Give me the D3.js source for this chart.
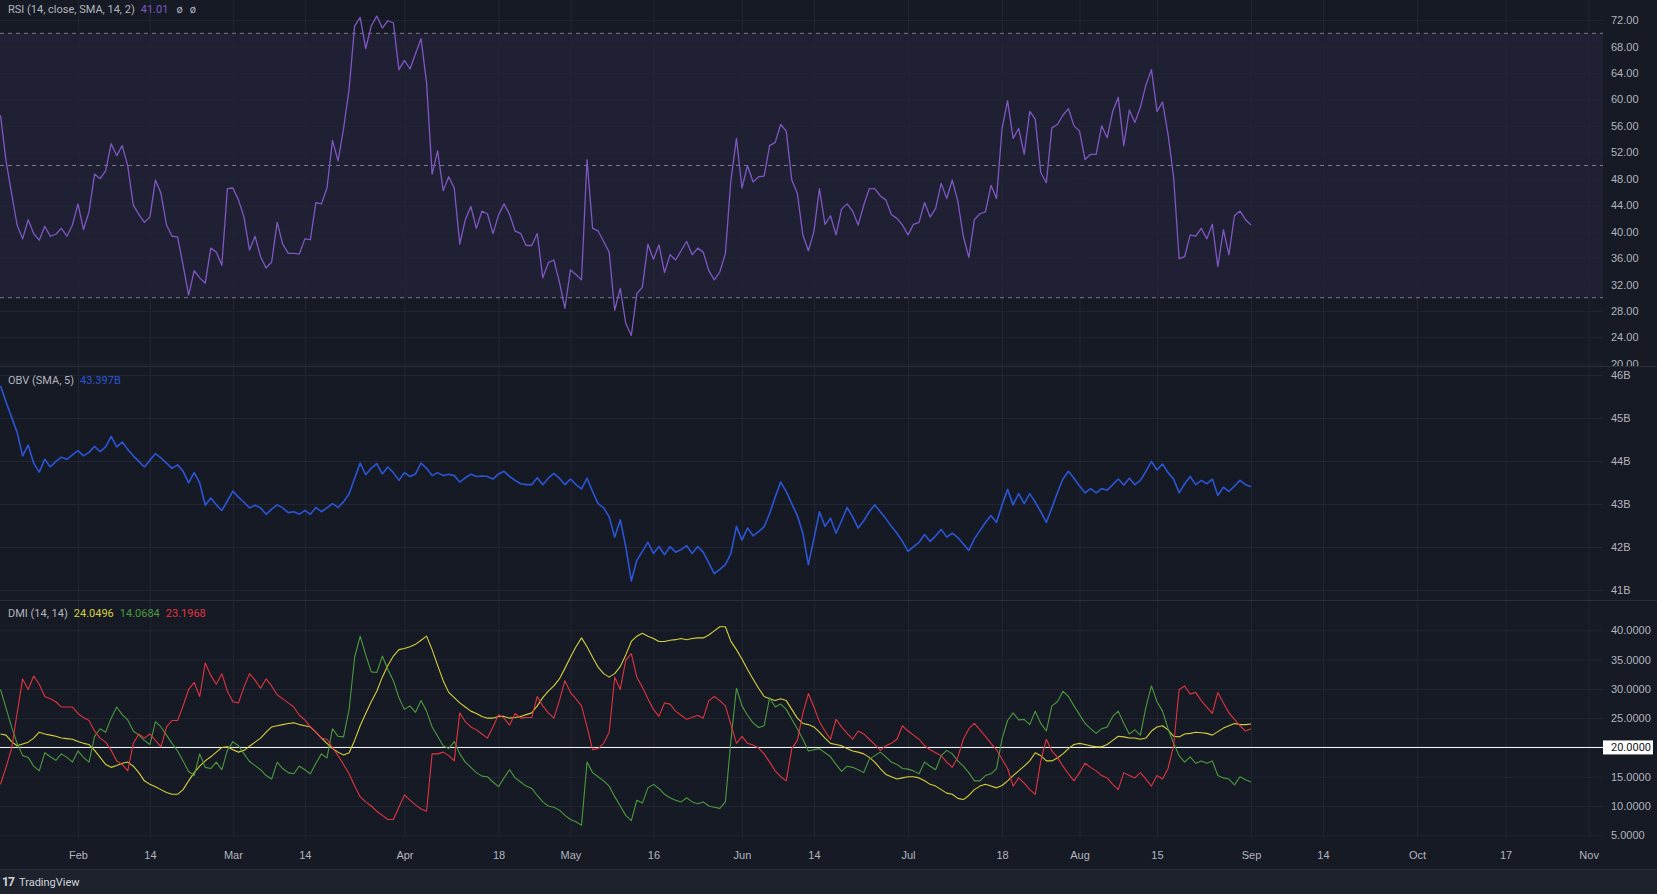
<!DOCTYPE html>
<html>
<head>
<meta charset="utf-8">
<script src="https://d3js.org/d3.v7.min.js"></script>
<style>
  html, body { margin: 0; padding: 0; background: #161a25; }
  svg { display: block; font-family: Roboto, "Noto Sans", sans-serif; }
</style>
</head>
<body>
<div id="wrapper"></div>
<script>
// daily values, 18 Jan 2022 .. 1 Sep 2022
const firstDay = '2022-01-18'
const lastDay = '2022-09-01'

const rsiValues = [
  57.6,50.7,45.8,41.0,38.9,41.8,39.7,38.7,40.8,39.3,
  39.6,40.5,39.3,41.0,44.2,40.3,43.0,48.7,48.0,49.2,
  53.3,51.5,53.0,49.9,44.0,42.6,41.4,42.2,47.8,45.8,
  41.0,39.3,39.2,34.9,30.4,34.1,33.0,32.2,37.5,36.9,
  34.9,46.5,46.6,44.8,42.2,37.2,39.3,36.2,34.5,35.4,
  41.4,38.1,36.7,36.7,36.6,38.9,38.8,44.4,44.2,46.6,
  53.8,50.7,55.6,61.6,71.1,72.4,67.7,71.1,72.6,70.8,
  71.9,71.6,64.5,65.9,64.6,66.9,69.2,62.5,48.7,52.2,
  46.2,48.3,46.6,38.1,41.8,43.8,40.5,43.1,42.7,39.7,
  42.5,44.2,42.6,40.1,39.7,37.9,37.9,39.7,33.0,35.3,
  35.7,32.4,28.4,34.2,33.5,32.7,50.9,40.5,40.1,38.5,
  36.9,28.1,31.4,26.1,24.3,30.6,31.6,38.1,35.8,38.0,
  33.8,36.5,35.7,37.1,38.5,36.5,37.5,36.9,34.1,32.7,
  33.9,36.7,47.8,54.1,46.6,50.0,47.5,48.3,48.4,53.0,
  53.5,56.2,55.2,47.8,45.8,39.5,37.1,40.0,46.5,41.1,
  42.4,39.5,43.4,44.2,43.1,41.0,44.0,46.5,46.5,45.4,
  44.8,42.6,42.0,41.0,39.5,41.1,41.4,44.4,42.2,43.5,
  47.3,45.0,47.8,44.6,39.3,36.1,41.8,42.7,43.0,47.0,
  45.0,55.6,59.8,54.1,55.6,51.7,58.2,57.0,48.9,47.4,
  55.7,56.2,57.6,58.6,56.0,55.2,50.9,51.7,51.7,56.0,
  54.2,58.2,60.3,53.0,58.4,56.5,58.8,62.2,64.5,58.2,
  59.6,54.7,48.3,35.9,36.2,39.5,39.3,40.5,38.9,41.1,
  34.7,40.3,36.5,42.4,43.1,41.8,41.0
]

// billions
const obvValues = [
  45.75,45.37,45.02,44.67,44.12,44.37,43.95,43.74,44.04,43.86,
  43.99,44.09,44.04,44.14,44.24,44.12,44.20,44.34,44.22,44.33,
  44.57,44.33,44.44,44.27,44.12,43.99,43.86,44.02,44.17,44.07,
  43.95,43.83,43.91,43.76,43.49,43.73,43.49,42.97,43.14,42.98,
  42.85,43.07,43.30,43.16,43.04,42.91,42.97,42.91,42.76,42.88,
  42.98,42.91,42.80,42.82,42.76,42.85,42.76,42.92,42.82,42.91,
  43.01,42.92,43.05,43.24,43.60,43.95,43.68,43.83,43.94,43.70,
  43.86,43.73,43.55,43.73,43.64,43.70,43.95,43.83,43.66,43.73,
  43.66,43.69,43.66,43.51,43.61,43.69,43.64,43.65,43.64,43.58,
  43.70,43.76,43.64,43.55,43.47,43.45,43.45,43.61,43.45,43.60,
  43.71,43.60,43.45,43.58,43.45,43.35,43.60,43.29,43.01,42.91,
  42.70,42.23,42.63,42.01,41.21,41.69,41.90,42.11,41.85,42.01,
  41.82,42.01,41.88,41.94,42.03,41.85,42.01,41.88,41.63,41.38,
  41.48,41.59,41.85,42.48,42.16,42.44,42.26,42.36,42.47,42.78,
  43.16,43.51,43.29,43.01,42.73,42.32,41.59,42.19,42.82,42.48,
  42.67,42.32,42.61,42.92,42.70,42.44,42.61,42.82,42.98,42.82,
  42.66,42.48,42.32,42.13,41.90,42.01,42.11,42.29,42.13,42.26,
  42.41,42.23,42.32,42.22,42.07,41.92,42.19,42.38,42.57,42.73,
  42.57,42.98,43.34,42.98,43.24,43.01,43.24,43.04,42.82,42.57,
  42.91,43.26,43.58,43.76,43.60,43.42,43.26,43.36,43.26,43.36,
  43.32,43.45,43.58,43.44,43.60,43.45,43.55,43.76,43.99,43.79,
  43.93,43.73,43.58,43.26,43.47,43.64,43.45,43.55,43.47,43.58,
  43.20,43.39,43.29,43.42,43.55,43.45,43.40
]

const adxValues = [
  22.3,22.1,21.0,20.3,20.6,20.9,21.6,22.6,22.3,22.1,
  21.9,21.6,21.5,21.4,21.0,20.7,20.5,19.5,18.3,17.1,
  16.6,16.9,17.3,17.5,16.8,15.7,14.3,13.7,13.3,12.8,
  12.3,12.0,12.0,12.8,14.3,15.7,16.8,17.7,18.4,19.2,
  20.0,20.1,19.6,19.2,19.5,20.2,20.9,21.6,22.6,23.5,
  23.7,23.9,24.1,24.2,23.9,23.7,23.5,22.6,21.6,20.7,
  19.8,19.2,18.7,19.1,21.2,23.7,25.8,27.8,29.6,32.0,
  34.0,35.6,36.7,36.9,37.2,37.6,38.3,39.0,36.7,34.0,
  31.4,29.4,28.5,27.6,26.9,26.2,25.8,25.3,25.0,25.0,
  25.3,25.3,25.0,25.1,25.3,25.6,25.9,27.1,28.5,29.6,
  30.5,31.7,33.5,35.4,37.2,38.7,37.2,35.4,33.7,32.6,
  32.0,32.6,33.8,35.8,38.1,39.0,39.5,39.0,38.6,38.1,
  38.1,38.3,38.4,38.6,38.4,38.6,38.7,38.7,39.2,39.9,
  40.6,40.6,38.1,36.7,35.1,33.3,31.7,30.1,28.7,28.3,
  28.0,28.3,28.0,26.5,25.0,24.1,23.9,23.5,22.6,21.6,
  20.7,20.5,20.3,19.8,19.4,19.2,18.9,18.3,17.5,16.4,
  15.4,15.0,14.6,14.8,15.0,15.0,14.8,14.3,13.7,13.4,
  12.8,12.2,12.0,11.3,11.1,11.8,12.8,13.4,13.7,13.4,
  13.1,13.5,14.3,15.2,16.0,16.8,17.7,19.1,18.6,17.7,
  17.7,18.2,18.9,19.8,20.5,20.7,20.5,20.3,20.1,20.1,
  20.5,21.2,21.9,21.8,21.6,21.6,21.4,21.6,22.8,23.5,
  23.7,23.0,21.9,21.8,22.3,22.4,22.6,22.5,22.4,22.1,
  22.7,23.3,23.7,24.1,23.9,23.9,24.0
]

const plusDiValues = [
  29.9,26.7,23.5,20.7,18.6,18.3,16.8,16.0,19.1,18.4,
  17.8,18.9,18.3,17.5,19.4,18.3,17.5,21.9,23.2,22.6,
  25.0,26.9,25.6,24.7,22.8,22.1,21.2,20.5,24.4,23.5,
  22.1,20.7,19.4,17.7,15.9,15.2,18.9,16.6,16.4,17.5,
  16.2,19.5,21.0,20.3,18.9,17.6,16.9,16.2,15.2,14.6,
  17.5,16.4,15.7,15.5,16.8,16.2,15.5,17.3,18.9,18.2,
  23.2,21.9,21.8,26.5,35.4,39.0,35.8,32.9,32.8,35.6,
  33.3,31.4,28.5,26.5,27.1,26.0,28.0,26.2,23.5,21.9,
  20.3,19.8,21.0,18.9,17.5,16.6,15.7,15.1,15.0,14.1,
  13.3,14.8,16.2,14.8,14.1,13.4,13.0,11.8,10.7,10.0,
  9.8,9.3,8.4,7.7,7.3,6.7,17.5,15.7,15.0,14.3,
  13.4,11.6,10.0,8.4,7.5,11.0,10.5,13.1,13.7,13.0,
  12.0,11.4,11.0,10.7,11.4,10.7,10.4,10.7,10.0,9.8,
  9.6,10.7,21.2,30.1,27.1,25.5,24.2,23.4,23.7,28.5,
  26.9,27.4,26.5,24.8,23.2,21.4,19.4,19.6,19.8,19.1,
  18.4,17.1,15.9,16.8,16.6,16.2,15.7,18.0,18.6,19.2,
  18.4,17.5,17.1,16.4,16.3,16.0,15.5,17.5,16.8,16.2,
  18.6,19.5,18.9,17.7,16.8,15.7,14.3,14.3,15.2,15.5,
  16.4,21.5,24.6,25.9,24.7,24.8,23.9,26.2,24.1,22.8,
  27.1,27.8,29.6,28.7,27.1,25.6,24.1,23.2,22.4,23.2,
  23.5,25.3,26.2,24.1,22.3,23.0,22.1,26.9,30.5,27.8,
  26.2,23.2,20.7,18.6,17.5,18.4,17.3,17.7,17.3,17.7,
  15.2,14.8,14.6,13.6,15.0,14.5,14.1
]

const minusDiValues = [
  13.7,16.6,19.8,25.8,31.7,29.9,32.2,30.8,28.7,28.3,
  27.8,26.9,26.9,26.9,25.8,25.1,24.6,22.8,21.6,20.9,
  19.5,17.7,17.1,16.0,20.7,22.3,21.6,22.3,21.2,20.1,
  23.5,24.6,24.6,27.1,29.9,31.1,28.7,34.4,32.3,30.8,
  32.6,29.6,27.8,27.6,30.3,32.6,31.5,30.1,31.7,30.5,
  29.0,28.3,27.6,26.9,25.5,24.7,23.5,22.6,21.6,21.4,
  20.0,18.6,17.1,15.5,13.4,11.6,10.7,10.0,9.1,8.4,
  7.7,7.7,9.8,11.9,11.0,10.2,9.5,9.1,18.9,18.9,
  19.2,18.6,17.7,25.9,24.4,23.5,23.0,22.3,21.6,23.5,
  25.6,25.0,23.8,25.8,25.0,25.1,25.1,28.7,27.1,25.9,
  25.0,28.0,31.4,29.4,28.3,27.1,23.5,19.6,19.8,20.7,
  22.6,32.0,29.9,34.9,36.0,32.0,30.3,28.3,26.5,25.3,
  27.6,27.4,26.2,25.5,24.8,25.1,25.5,25.0,28.0,28.7,
  28.0,27.1,23.9,20.7,21.9,20.7,20.4,19.9,18.9,17.5,
  16.0,15.0,14.3,19.8,21.2,25.8,29.2,26.9,24.4,22.8,
  21.4,24.8,23.5,22.4,21.4,22.8,22.3,21.4,20.5,19.5,
  20.3,20.7,21.4,23.7,22.8,22.1,21.4,20.3,19.6,19.1,
  18.6,17.5,16.6,18.3,21.4,23.2,24.1,23.0,21.9,20.7,
  19.6,18.0,16.4,13.4,14.8,13.9,12.8,12.0,17.7,21.4,
  19.4,18.3,16.8,15.5,14.3,15.7,17.3,16.6,16.0,15.2,
  14.8,13.7,12.8,15.7,15.2,14.8,15.7,14.6,13.4,15.2,
  14.6,16.4,20.3,29.9,30.5,29.1,29.4,28.0,26.9,25.8,
  29.4,27.6,25.9,24.8,23.7,22.8,23.2
]

const xTickDates = ['2022-02-01','2022-02-14','2022-03-01','2022-03-14','2022-04-01',
  '2022-04-18','2022-05-01','2022-05-16','2022-06-01','2022-06-14','2022-07-01',
  '2022-07-18','2022-08-01','2022-08-15','2022-09-01','2022-09-14','2022-10-01',
  '2022-10-17','2022-11-01']
const xTickLabels = ['Feb','14','Mar','14','Apr','18','May','16','Jun','14','Jul',
  '18','Aug','15','Sep','14','Oct','17','Nov']

const rsiTicks = [20,24,28,32,36,40,44,48,52,56,60,64,68,72]
const rsiLevels = [70,50,30]
const obvTicks = [41,42,43,44,45,46]
const dmiTicks = [5,10,15,20,25,30,35,40]
const dmiLevel = 20

const legendRsi = { title: 'RSI (14, close, SMA, 14, 2)', value: '41.01', extra: ['ø', 'ø'] }
const legendObv = { title: 'OBV (SMA, 5)', value: '43.397B' }
const legendDmi = { title: 'DMI (14, 14)', values: ['24.0496', '14.0684', '23.1968'] }

const colors = {
  bg: '#161a25',
  footer: '#1e222d',
  grid: '#222632',
  separator: '#2a2e39',
  text: '#b2b5be',
  rsi: '#7e57c2',
  obv: '#2b55d6',
  adx: '#d6d03a',
  plus: '#4c9a3e',
  minus: '#e0343f',
}

const parse = d3.utcParse('%Y-%m-%d')
const dates = d3.utcDay.range(parse(firstDay), d3.utcDay.offset(parse(lastDay), 1))

const dimensions = {
  width: 1657,
  height: 894,
  plotRight: 1603,
  axisTop: 837,
  footerTop: 869,
}
const panes = {
  rsi: { top: 0, bottom: 366, labelBottom: 366, y0: 363.8, y1: 20.1 },
  obv: { top: 366, bottom: 600, labelBottom: 600, y0: 590, y1: 375 },
  dmi: { top: 600, bottom: 837, labelBottom: 848, y0: 835.3, y1: 630.3 },
}

const svg = d3.select('#wrapper')
  .append('svg')
    .attr('width', dimensions.width)
    .attr('height', dimensions.height)

svg.append('rect')
    .attr('width', dimensions.width)
    .attr('height', dimensions.height)
    .attr('fill', colors.bg)

const xScale = d3.scaleUtc()
    .domain([parse('2022-01-18'), parse('2022-11-01')])
    .range([0.5, 1588.6])

const rsiScale = d3.scaleLinear().domain([20, 72]).range([panes.rsi.y0, panes.rsi.y1])
const obvScale = d3.scaleLinear().domain([41, 46]).range([panes.obv.y0, panes.obv.y1])
const dmiScale = d3.scaleLinear().domain([5, 40]).range([panes.dmi.y0, panes.dmi.y1])

// clip paths for each pane (global coordinates; used on untransformed groups)
const defs = svg.append('defs')
Object.entries(panes).forEach(([key, p]) => {
  defs.append('clipPath').attr('id', `clip-${key}`)
    .append('rect')
      .attr('x', 0).attr('y', p.top)
      .attr('width', dimensions.plotRight).attr('height', p.bottom - p.top)
  defs.append('clipPath').attr('id', `clip-axis-${key}`)
    .append('rect')
      .attr('x', dimensions.plotRight).attr('y', p.top)
      .attr('width', dimensions.width - dimensions.plotRight).attr('height', p.labelBottom - p.top)
})

// RSI band fill
svg.append('rect')
    .attr('x', 0)
    .attr('y', rsiScale(70))
    .attr('width', dimensions.plotRight)
    .attr('height', rsiScale(30) - rsiScale(70))
    .attr('fill', 'rgba(126, 87, 194, 0.1)')

// vertical grid
const xGrid = svg.append('g')
    .attr('transform', `translate(0, ${dimensions.axisTop})`)
    .call(d3.axisBottom(xScale)
      .tickValues(xTickDates.map(parse))
      .tickSize(-dimensions.axisTop)
      .tickFormat(''))
xGrid.select('.domain').remove()
xGrid.selectAll('line').attr('stroke', colors.grid)

// horizontal grid + price axis per pane
function drawPriceAxis(key, scale, ticks, format) {
  const grid = svg.append('g')
      .attr('clip-path', `url(#clip-${key})`)
    .append('g')
      .attr('transform', `translate(${dimensions.plotRight}, 0)`)
      .call(d3.axisRight(scale).tickValues(ticks).tickSize(-dimensions.plotRight).tickFormat(''))
  grid.select('.domain').remove()
  grid.selectAll('line').attr('stroke', colors.grid)

  const axis = svg.append('g')
      .attr('clip-path', `url(#clip-axis-${key})`)
    .append('g')
      .attr('transform', `translate(${dimensions.plotRight}, 0)`)
      .call(d3.axisRight(scale).tickValues(ticks).tickSize(0).tickPadding(8).tickFormat(format))
  axis.select('.domain').remove()
  axis.selectAll('text')
      .attr('fill', colors.text)
      .style('font-size', '11px')
}

drawPriceAxis('rsi', rsiScale, rsiTicks, d3.format('.2f'))
drawPriceAxis('obv', obvScale, obvTicks, d => d + 'B')
drawPriceAxis('dmi', dmiScale, dmiTicks, d3.format('.4f'))

// RSI levels
svg.append('g').selectAll('line')
  .data(rsiLevels)
  .join('line')
    .attr('x1', 0).attr('x2', dimensions.plotRight)
    .attr('y1', d => rsiScale(d)).attr('y2', d => rsiScale(d))
    .attr('stroke', '#787b86')
    .attr('stroke-dasharray', '4 4')

// pane separators
svg.append('g').selectAll('line')
  .data([panes.obv.top, panes.dmi.top, dimensions.footerTop])
  .join('line')
    .attr('x1', 0).attr('x2', dimensions.width)
    .attr('y1', d => d + 0.5).attr('y2', d => d + 0.5)
    .attr('stroke', colors.separator)

// lines
function drawLine(key, values, scale, color, width) {
  const line = d3.line()
      .x((d, i) => xScale(dates[i]))
      .y(d => scale(d))
  svg.append('path')
      .attr('clip-path', `url(#clip-${key})`)
      .attr('d', line(values))
      .attr('fill', 'none')
      .attr('stroke', color)
      .attr('stroke-width', width)
      .attr('stroke-linejoin', 'round')
}

drawLine('rsi', rsiValues, rsiScale, colors.rsi, 1.3)
drawLine('obv', obvValues, obvScale, colors.obv, 1.6)

// DMI 20 level line
svg.append('line')
    .attr('x1', 0).attr('x2', dimensions.plotRight)
    .attr('y1', dmiScale(dmiLevel)).attr('y2', dmiScale(dmiLevel))
    .attr('stroke', '#ffffff')
    .attr('stroke-width', 1)

drawLine('dmi', adxValues, dmiScale, colors.adx, 1.1)
drawLine('dmi', plusDiValues, dmiScale, colors.plus, 1.1)
drawLine('dmi', minusDiValues, dmiScale, colors.minus, 1.1)

// level label on the price axis
const levelLabel = svg.append('g')
    .attr('transform', `translate(${dimensions.plotRight}, ${dmiScale(dmiLevel)})`)
levelLabel.append('rect')
    .attr('x', 0).attr('y', -7)
    .attr('width', 50).attr('height', 14)
    .attr('fill', '#ffffff')
levelLabel.append('text')
    .attr('x', 8).attr('dy', '0.35em')
    .attr('fill', '#131722')
    .style('font-size', '11px')
    .text(d3.format('.4f')(dmiLevel))

// time axis
const xAxis = svg.append('g')
    .attr('transform', `translate(0, ${dimensions.axisTop})`)
    .call(d3.axisBottom(xScale)
      .tickValues(xTickDates.map(parse))
      .tickSize(0)
      .tickPadding(14)
      .tickFormat((d, i) => xTickLabels[i]))
xAxis.select('.domain').remove()
xAxis.selectAll('text')
    .attr('fill', colors.text)
    .style('font-size', '11px')

// legends
function legend(y, parts) {
  const t = svg.append('text')
      .attr('x', 8).attr('y', y)
      .attr('dy', '0.35em')
      .style('font-size', '11px')
  parts.forEach((p, i) => {
    t.append('tspan')
        .attr('dx', i === 0 ? 0 : (p.gap || 6))
        .attr('fill', p.color)
        .text(p.text)
  })
}

legend(9, [
  { text: legendRsi.title, color: colors.text },
  { text: legendRsi.value, color: colors.rsi },
  { text: legendRsi.extra[0], color: colors.text, gap: 8 },
  { text: legendRsi.extra[1], color: colors.text, gap: 7 },
])
legend(380, [
  { text: legendObv.title, color: colors.text },
  { text: legendObv.value, color: colors.obv },
])
legend(613, [
  { text: legendDmi.title, color: colors.text },
  { text: legendDmi.values[0], color: colors.adx },
  { text: legendDmi.values[1], color: colors.plus },
  { text: legendDmi.values[2], color: colors.minus },
])

// footer
svg.append('rect')
    .attr('x', 0).attr('y', dimensions.footerTop + 1)
    .attr('width', dimensions.width)
    .attr('height', dimensions.height - dimensions.footerTop - 1)
    .attr('fill', colors.footer)

svg.append('text')
    .attr('x', 2).attr('y', 882)
    .attr('dy', '0.35em')
    .attr('fill', '#d1d4dc')
    .style('font-size', '12px')
    .style('font-weight', 'bold')
    .style('letter-spacing', '-1px')
    .text('17')
svg.append('text')
    .attr('x', 19).attr('y', 882)
    .attr('dy', '0.35em')
    .attr('fill', '#d1d4dc')
    .style('font-size', '11px')
    .text('TradingView')
</script>
</body>
</html>
